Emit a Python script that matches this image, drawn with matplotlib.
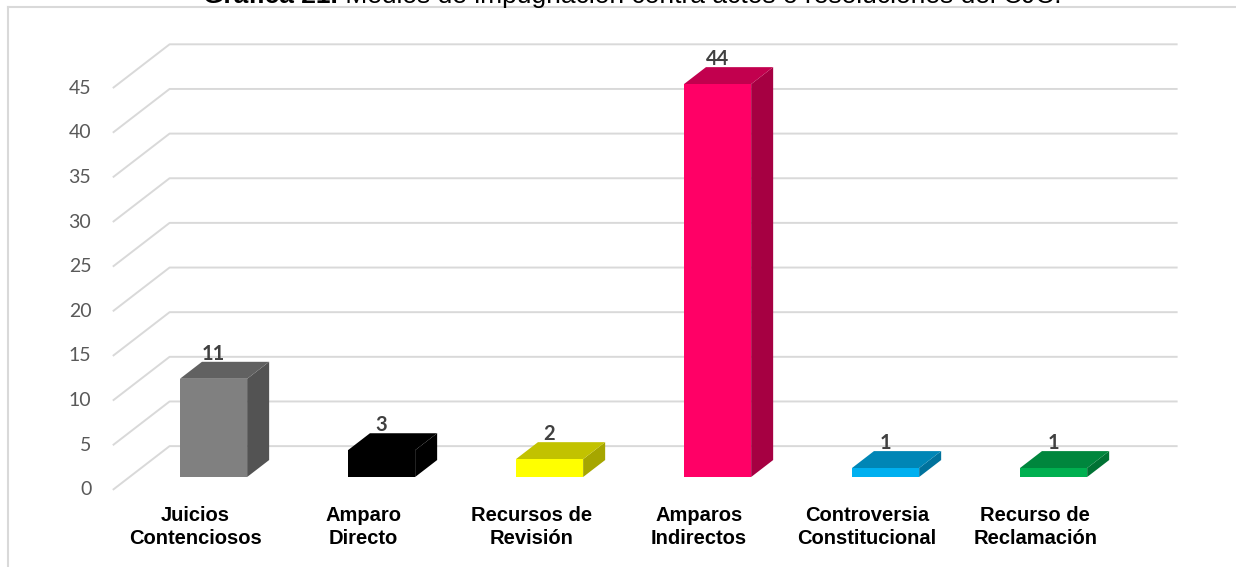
import matplotlib.pyplot as plt
from matplotlib.patches import Polygon
from matplotlib.lines import Line2D
from matplotlib.colors import to_rgb

categorias = ['Juicios\nContenciosos', 'Amparo\nDirecto', 'Recursos de\nRevisión',
              'Amparos\nIndirectos', 'Controversia\nConstitucional', 'Recurso de\nReclamación']
valores = [11, 3, 2, 44, 1, 1]
colores = ['#808080', '#000000', '#FFFF00', '#FF0066', '#00B0F0', '#00B050']
ticks_y = list(range(0, 50, 5))

titulo_neg = 'Gráfica 21.'
titulo = ' Medios de impugnación contra actos o resoluciones del CJC.'

# perspectiva oblicua: d=1 es el fondo de la barra
DX, DY = 0.131, 1.90
ANCHO = 0.4
PARED_F, PARED_B = -0.76, 1.82
GRIS = '#d9d9d9'


def proy(x, y, d):
    return x + d * DX, y + d * DY


def oscurecer(c, f):
    r, g, b = to_rgb(c)
    return (r * f, g * f, b * f)


fig = plt.figure(figsize=(12.36, 5.67), dpi=100)
ax = fig.add_axes([0, 0, 1, 1])
ax.set_xlim(-1.271, 6.086)
ax.set_ylim(-10.08, 53.42)
ax.axis('off')

n = len(valores)
x_izq, x_der = -0.5, n - 0.5

# lineas de cuadricula (pared lateral + fondo)
for v in ticks_y:
    p0 = proy(x_izq, v, PARED_F)
    p1 = proy(x_izq, v, PARED_B)
    p2 = proy(x_der, v, PARED_B)
    ax.plot([p0[0], p1[0], p2[0]], [p0[1], p1[1], p2[1]], color=GRIS, lw=1.4,
            zorder=1, solid_capstyle='butt')
    ax.annotate(str(v), xy=p0, xytext=(-15.5, 0), textcoords='offset points',
                ha='right', va='center', fontsize=14, family='Lato', color='#595959')

# barras 3D
for i, (v, c) in enumerate(zip(valores, colores)):
    x0, x1 = i - ANCHO / 2, i + ANCHO / 2
    frente = [(x0, 0), (x1, 0), (x1, v), (x0, v)]
    arriba = [(x0, v), (x1, v), proy(x1, v, 1), proy(x0, v, 1)]
    lado = [(x1, 0), (x1, v), proy(x1, v, 1), proy(x1, 0, 1)]
    ax.add_patch(Polygon(lado, closed=True, fc=oscurecer(c, 0.65), ec='none', zorder=3))
    ax.add_patch(Polygon(arriba, closed=True, fc=oscurecer(c, 0.76), ec='none', zorder=3))
    ax.add_patch(Polygon(frente, closed=True, fc=c, ec='none', zorder=4))
    ax.text(i, v + DY - 0.2, str(v), ha='center', va='bottom', fontsize=14.5,
            family='Lato', fontweight='bold', color='#404040', zorder=5)
    ax.text(proy(i, 0, PARED_F)[0] - 0.01, -3.3, categorias[i], ha='center', va='top',
            fontsize=14.5, family='Liberation Sans', fontweight='bold',
            linespacing=1.25, color='black')

# marco
fig.add_artist(Line2D([8 / 1236, 8 / 1236], [0, 1 - 7 / 567], transform=fig.transFigure,
                      color=GRIS, lw=1.5))
fig.add_artist(Line2D([8 / 1236, 1], [1 - 7 / 567, 1 - 7 / 567], transform=fig.transFigure,
                      color=GRIS, lw=1.5))

# titulo (recortado arriba como en la original)
r = fig.canvas.get_renderer()
t1 = fig.text(0, 1 - 3 / 567, titulo_neg, fontsize=19, family='Liberation Sans',
              fontweight='bold', va='baseline')
t2 = fig.text(0, 1 - 3 / 567, titulo, fontsize=19, family='Liberation Sans', va='baseline')
w1 = t1.get_window_extent(r).width
w2 = t2.get_window_extent(r).width
inicio = 632 - (w1 + w2) / 2
t1.set_x(inicio / 1236)
t2.set_x((inicio + w1) / 1236)

fig.savefig('out.png', dpi=100)
